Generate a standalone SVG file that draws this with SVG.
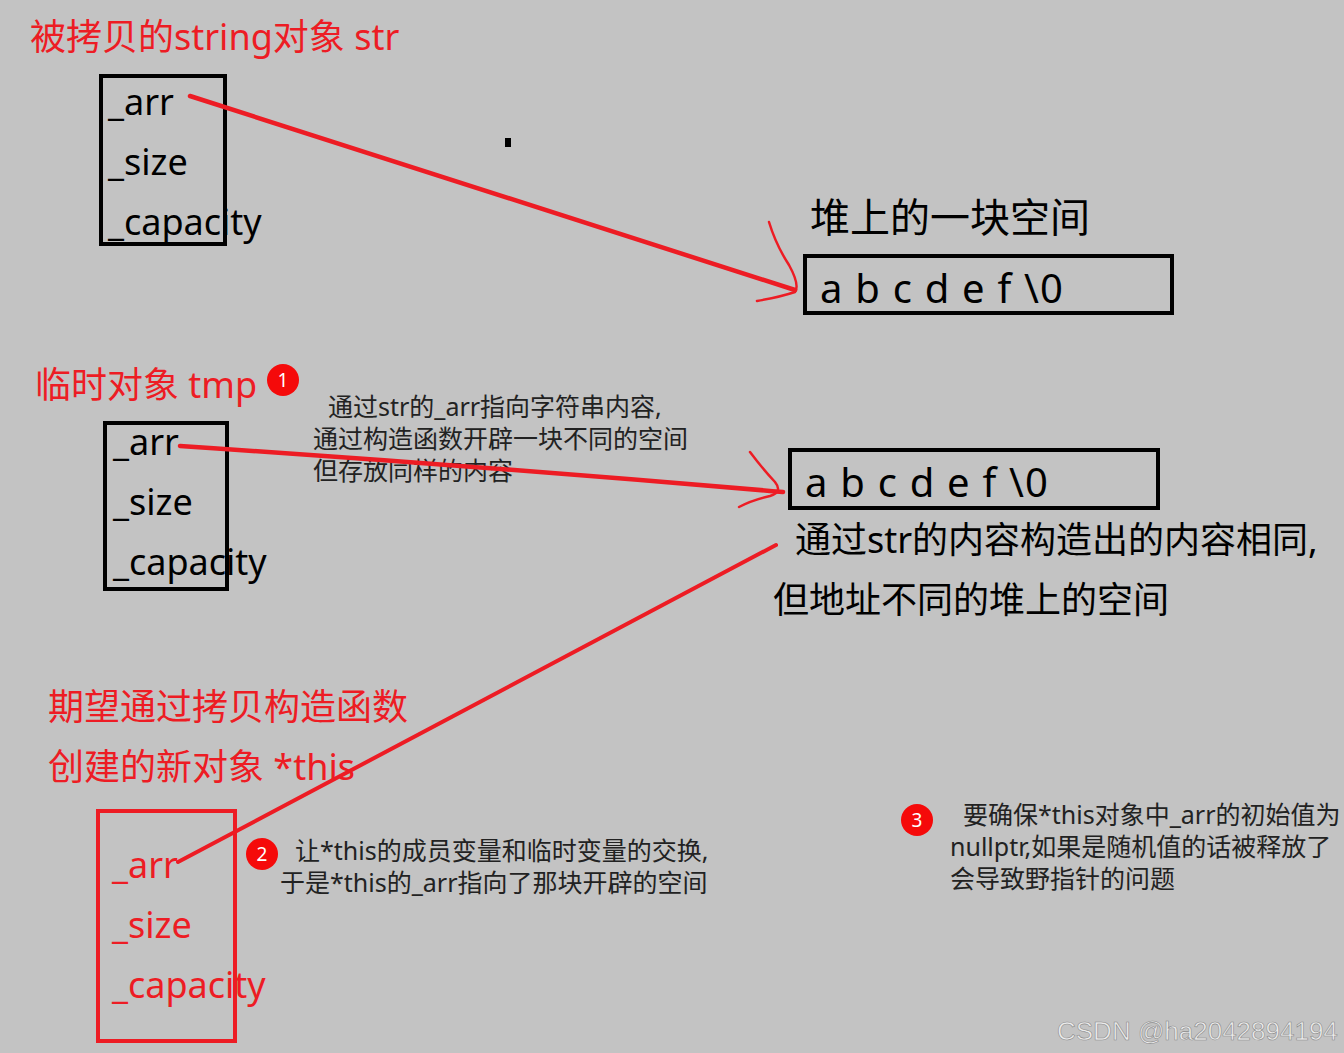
<svg xmlns="http://www.w3.org/2000/svg" width="1344" height="1053" viewBox="0 0 1344 1053">
<style>
text{font-family:"Noto Sans","Noto Sans CJK SC",sans-serif}
.red{fill:#ed1c24}
.blk{fill:#000}
.note{fill:#222;font-size:25px}
.big{font-size:36px}
.abc{font-size:40px;letter-spacing:1.2px}
.box{fill:none;stroke:#000;stroke-width:4}
.rbox{fill:none;stroke:#ed1c24;stroke-width:4}
.ln{fill:none;stroke:#ed1c24;stroke-linecap:round;stroke-linejoin:round}
.badge{fill:#f50a0a}
.bt{fill:#fff;font-size:19px;text-anchor:middle}
</style>
<rect width="1344" height="1053" fill="#c3c3c3"/>
<g id="str">
<text x="30" y="50" class="red big">被拷贝的string对象 str</text>
<rect x="101" y="76" width="124" height="168" class="box"/>
<text x="108" y="115" class="blk big">_arr</text>
<text x="108" y="175" class="blk big">_size</text>
<text x="108" y="235" class="blk big">_capacity</text>
</g>
<rect x="505" y="138" width="6" height="9" fill="#000"/>
<g id="heap1">
<text x="810" y="232" class="blk" font-size="40">堆上的一块空间</text>
<rect x="805" y="256" width="367" height="57" class="box"/>
<text x="820" y="303" class="blk abc">a b c d e f \0</text>
</g>
<g id="tmp">
<text x="35" y="398" class="red big">临时对象 tmp</text>
<rect x="105" y="423" width="122" height="166" class="box"/>
<text x="113" y="455" class="blk big">_arr</text>
<text x="113" y="515" class="blk big">_size</text>
<text x="113" y="575" class="blk big">_capacity</text>
</g>
<g id="badge1">
<circle cx="283" cy="380" r="16" class="badge"/>
<text x="283" y="387" class="bt">1</text>
</g>
<g id="note1">
<text x="328" y="416" class="note">通过str的_arr指向字符串内容,</text>
<text x="313" y="448" class="note">通过构造函数开辟一块不同的空间</text>
<text x="313" y="480" class="note">但存放同样的内容</text>
</g>
<g id="heap2">
<rect x="790" y="450" width="368" height="58" class="box"/>
<text x="805" y="497" class="blk abc">a b c d e f \0</text>
<text x="795" y="553" class="blk big">通过str的内容构造出的内容相同,</text>
<text x="773" y="613" class="blk big">但地址不同的堆上的空间</text>
</g>
<g id="this">
<text x="48" y="720" class="red big">期望通过拷贝构造函数</text>
<text x="48" y="780" class="red big">创建的新对象 *this</text>
<rect x="98" y="811" width="137" height="230" class="rbox"/>
<text x="112" y="878" class="red big">_arr</text>
<text x="112" y="938" class="red big">_size</text>
<text x="112" y="998" class="red big">_capacity</text>
</g>
<g id="badge2">
<circle cx="262" cy="854" r="16" class="badge"/>
<text x="262" y="861" class="bt">2</text>
</g>
<g id="note2">
<text x="295" y="860" class="note">让*this的成员变量和临时变量的交换,</text>
<text x="280" y="892" class="note">于是*this的_arr指向了那块开辟的空间</text>
</g>
<g id="badge3">
<circle cx="917" cy="820" r="16" class="badge"/>
<text x="917" y="827" class="bt">3</text>
</g>
<g id="note3">
<text x="963" y="824" class="note">要确保*this对象中_arr的初始值为</text>
<text x="950" y="856" class="note">nullptr,如果是随机值的话被释放了</text>
<text x="950" y="888" class="note">会导致野指针的问题</text>
</g>
<g id="connectors">
<path d="M190,96 L795,290" class="ln" stroke-width="4.5"/>
<path d="M769,222 Q776,245 789,265 Q800,285 795,292 Q780,297 757,301" class="ln" stroke-width="2.5"/>
<path d="M180,446 Q480,466 783,492" class="ln" stroke-width="4.5"/>
<path d="M750,452 Q762,468 775,482 Q783,492 770,496 Q752,500 739,507" class="ln" stroke-width="2.5"/>
<path d="M776,545 L178,862" class="ln" stroke-width="4"/>
</g>
<text x="1057" y="1040" font-size="26" fill="#ececec" stroke="#8a8a8a" stroke-width="0.6" style="font-family:'Liberation Sans',sans-serif">CSDN @ha2042894194</text>
</svg>
